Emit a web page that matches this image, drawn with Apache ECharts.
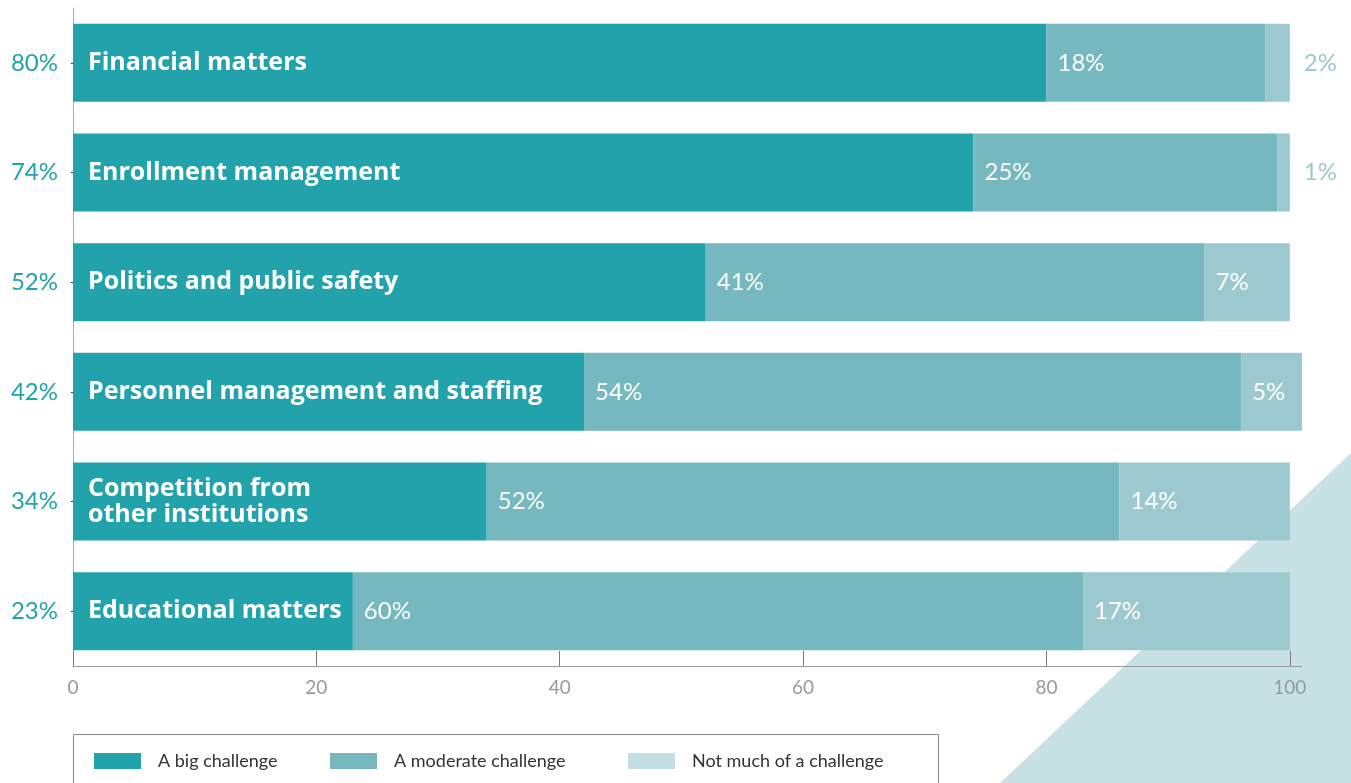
<!DOCTYPE html>
<html>
<head>
<meta charset="utf-8">
<script src="https://cdn.jsdelivr.net/npm/echarts@6/dist/echarts.min.js"></script>
<style>
  html, body { margin: 0; padding: 0; background: #ffffff; }
  #chart { width: 1351px; height: 783px; }
</style>
</head>
<body>
<div id="chart"></div>
<script>
// Challenges faced, share of respondents (%)
const categories = [
  'Financial matters',
  'Enrollment management',
  'Politics and public safety',
  'Personnel management and staffing',
  'Competition from\nother institutions',
  'Educational matters'
];
const seriesNames = ['A big challenge', 'A moderate challenge', 'Not much of a challenge'];
const bigChallenge = [80, 74, 52, 42, 34, 23];
const moderateChallenge = [18, 25, 41, 54, 52, 60];
const notMuchChallenge = [2, 1, 7, 5, 14, 17];
const xTicks = [0, 20, 40, 60, 80, 100];

const colors = ['#22a3ac', '#75b8bf', '#9cc9cf'];
const legendSwatch = ['#22a3ac', '#75b8bf', '#c3dfe3'];
const numFont = 'Lato';

const chart = echarts.init(document.getElementById('chart'));

// small segments get their label outside the bar end
const notMuchData = notMuchChallenge.map(v => {
  if (v <= 2) {
    return {
      value: v,
      label: { position: 'right', distance: 14, color: '#9dc9cf' }
    };
  }
  return v;
});

function legendAt(left, idx) {
  return {
    left: left,
    top: 752,
    padding: 0,
    itemWidth: 47,
    itemHeight: 16,
    icon: 'rect',
    selectedMode: false,
    data: [{ name: seriesNames[idx], itemStyle: { color: legendSwatch[idx] } }],
    textStyle: { color: '#333333', fontFamily: numFont, fontSize: 18, padding: [0, 0, 0, 12] }
  };
}

chart.setOption({
  animation: false,
  grid: { left: 73, right: 49, top: 8, bottom: 117 },
  xAxis: {
    type: 'value',
    min: 0,
    max: 101,
    splitLine: { show: false },
    axisLine: { show: true, lineStyle: { color: '#9a9a9a', width: 1 } },
    axisTick: {
      show: true, inside: true, length: 15, customValues: xTicks,
      lineStyle: { color: '#7a7a7a', width: 1 }
    },
    axisLabel: {
      customValues: xTicks, color: '#999999', fontFamily: numFont, fontSize: 19, margin: 12
    }
  },
  yAxis: {
    type: 'category',
    inverse: true,
    data: categories,
    axisLine: { show: true, lineStyle: { color: '#aaaaaa', width: 1 } },
    axisTick: { show: true, alignWithLabel: true, length: 2, lineStyle: { color: '#333333' } },
    axisLabel: {
      color: '#22a3ac', fontFamily: numFont, fontSize: 24, margin: 15,
      formatter: (v, i) => bigChallenge[i] + '%'
    }
  },
  legend: [legendAt(94, 0), legendAt(330, 1), legendAt(628, 2)],
  graphic: [
    {
      type: 'polygon', z: -1, silent: true,
      shape: { points: [[1351, 453], [1351, 783], [1000, 783]] },
      style: { fill: '#c7e1e5' }
    },
    {
      type: 'rect', z: 1, silent: true,
      shape: { x: 73.5, y: 734.5, width: 865, height: 70 },
      style: { fill: 'none', stroke: '#888888', lineWidth: 1 }
    }
  ],
  series: [
    {
      name: seriesNames[0], type: 'bar', stack: 'total', barWidth: 78,
      itemStyle: { color: colors[0] },
      data: bigChallenge,
      label: {
        show: true, position: 'insideLeft', distance: 15,
        formatter: p => categories[p.dataIndex],
        color: '#ffffff', fontFamily: 'Open Sans', fontWeight: 'bold', fontSize: 25, lineHeight: 26
      }
    },
    {
      name: seriesNames[1], type: 'bar', stack: 'total', barWidth: 78,
      itemStyle: { color: colors[1] },
      data: moderateChallenge,
      label: {
        show: true, position: 'insideLeft', distance: 11, formatter: '{c}%',
        color: '#ffffff', fontFamily: numFont, fontSize: 24
      }
    },
    {
      name: seriesNames[2], type: 'bar', stack: 'total', barWidth: 78,
      itemStyle: { color: colors[2] },
      data: notMuchData,
      label: {
        show: true, position: 'insideLeft', distance: 11, formatter: '{c}%',
        color: '#ffffff', fontFamily: numFont, fontSize: 24
      }
    }
  ]
});
</script>
</body>
</html>
